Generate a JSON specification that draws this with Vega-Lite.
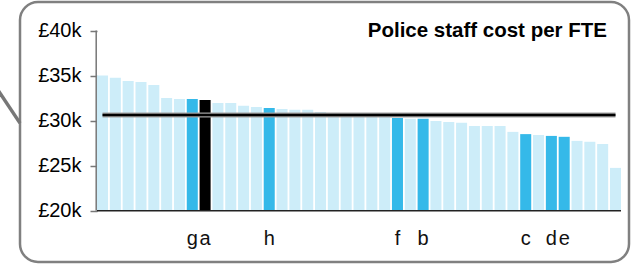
{
  "$schema": "https://vega.github.io/schema/vega-lite/v6.json",
  "width": 609,
  "height": 260,
  "autosize": {"type": "none"},
  "padding": {"left": 20, "top": 2, "right": 12, "bottom": 3},
  "background": "white",
  "config": {
    "view": {"stroke": "#808080", "strokeWidth": 2.5, "cornerRadius": 18},
    "font": "Liberation Sans"
  },
  "datasets": {
    "bars": [
      {"id": "01", "value": 35.0, "kind": "base", "label": ""},
      {"id": "02", "value": 34.75, "kind": "base", "label": ""},
      {"id": "03", "value": 34.4, "kind": "base", "label": ""},
      {"id": "04", "value": 34.3, "kind": "base", "label": ""},
      {"id": "05", "value": 33.95, "kind": "base", "label": ""},
      {"id": "06", "value": 32.5, "kind": "base", "label": ""},
      {"id": "07", "value": 32.4, "kind": "base", "label": ""},
      {"id": "08", "value": 32.4, "kind": "peer", "label": "g"},
      {"id": "09", "value": 32.3, "kind": "own", "label": "a"},
      {"id": "10", "value": 31.95, "kind": "base", "label": ""},
      {"id": "11", "value": 31.95, "kind": "base", "label": ""},
      {"id": "12", "value": 31.65, "kind": "base", "label": ""},
      {"id": "13", "value": 31.5, "kind": "base", "label": ""},
      {"id": "14", "value": 31.4, "kind": "peer", "label": "h"},
      {"id": "15", "value": 31.3, "kind": "base", "label": ""},
      {"id": "16", "value": 31.2, "kind": "base", "label": ""},
      {"id": "17", "value": 31.2, "kind": "base", "label": ""},
      {"id": "18", "value": 30.95, "kind": "base", "label": ""},
      {"id": "19", "value": 30.85, "kind": "base", "label": ""},
      {"id": "20", "value": 30.75, "kind": "base", "label": ""},
      {"id": "21", "value": 30.7, "kind": "base", "label": ""},
      {"id": "22", "value": 30.6, "kind": "base", "label": ""},
      {"id": "23", "value": 30.5, "kind": "base", "label": ""},
      {"id": "24", "value": 30.3, "kind": "peer", "label": "f"},
      {"id": "25", "value": 30.2, "kind": "base", "label": ""},
      {"id": "26", "value": 30.2, "kind": "peer", "label": "b"},
      {"id": "27", "value": 29.95, "kind": "base", "label": ""},
      {"id": "28", "value": 29.85, "kind": "base", "label": ""},
      {"id": "29", "value": 29.75, "kind": "base", "label": ""},
      {"id": "30", "value": 29.4, "kind": "base", "label": ""},
      {"id": "31", "value": 29.4, "kind": "base", "label": ""},
      {"id": "32", "value": 29.4, "kind": "base", "label": ""},
      {"id": "33", "value": 28.75, "kind": "base", "label": ""},
      {"id": "34", "value": 28.5, "kind": "peer", "label": "c"},
      {"id": "35", "value": 28.4, "kind": "base", "label": ""},
      {"id": "36", "value": 28.3, "kind": "peer", "label": "d"},
      {"id": "37", "value": 28.2, "kind": "peer", "label": "e"},
      {"id": "38", "value": 27.75, "kind": "base", "label": ""},
      {"id": "39", "value": 27.65, "kind": "base", "label": ""},
      {"id": "40", "value": 27.4, "kind": "base", "label": ""},
      {"id": "41", "value": 24.75, "kind": "base", "label": ""}
    ],
    "note": [{"text": "Police staff cost per FTE"}]
  },
  "layer": [
    {
      "layer": [
        {
          "data": {"name": "bars"},
          "mark": {"type": "bar"},
          "encoding": {
            "x": {"field": "id", "type": "ordinal", "axis": null,
                  "scale": {"range": [77, 601], "paddingInner": 0.14, "paddingOuter": 0}},
            "y": {"field": "value", "type": "quantitative",
                  "scale": {"domain": [14.3, 43.17], "nice": false, "zero": false},
                  "axis": {"values": [20, 25, 30, 35, 40], "offset": -77, "domain": false, "grid": false,
                           "ticks": true, "tickSize": 7, "tickColor": "#777777", "tickWidth": 1.5,
                           "labelFontSize": 20, "labelColor": "#000000", "labelPadding": 9,
                           "labelFont": "Liberation Sans",
                           "labelExpr": "'£' + datum.value + 'k'", "title": null}},
            "y2": {"datum": 20},
            "color": {"field": "kind", "type": "nominal", "legend": null,
                      "scale": {"domain": ["base", "peer", "own"], "range": ["#cdedf9", "#35b9e9", "#000000"]}}
          }
        },
        {
          "data": {"name": "bars"},
          "mark": {"type": "line", "color": "#a0a0a0", "strokeWidth": 5},
          "encoding": {
            "x": {"field": "id", "type": "ordinal", "axis": null},
            "y": {"datum": 30.63, "title": null}
          }
        },
        {
          "data": {"name": "bars"},
          "mark": {"type": "line", "color": "#000000", "strokeWidth": 2.6},
          "encoding": {
            "x": {"field": "id", "type": "ordinal", "axis": null},
            "y": {"datum": 30.63, "title": null}
          }
        },
        {
          "data": {"name": "note"},
          "mark": {"type": "rule", "color": "#777777", "strokeWidth": 1.5, "xOffset": -0.8},
          "encoding": {
            "x": {"datum": "01", "type": "ordinal", "bandPosition": 0, "axis": null},
            "y": {"datum": 20, "title": null},
            "y2": {"datum": 40}
          }
        },
        {
          "data": {"name": "note"},
          "mark": {"type": "rule", "color": "#222222", "strokeWidth": 1.5},
          "encoding": {
            "x": {"datum": "01", "type": "ordinal", "bandPosition": 0, "axis": null},
            "x2": {"datum": "41", "bandPosition": 1},
            "y": {"datum": 20, "title": null}
          }
        },
        {
          "data": {"name": "bars"},
          "mark": {"type": "text", "fontSize": 20, "color": "#111111", "baseline": "alphabetic", "align": "center"},
          "encoding": {
            "x": {"field": "id", "type": "ordinal", "axis": null},
            "y": {"datum": 16.2, "title": null},
            "text": {"field": "label"}
          }
        },
        {
          "data": {"name": "note"},
          "mark": {"type": "text", "fontSize": 20.5, "fontWeight": "bold", "color": "#000000",
                   "baseline": "alphabetic", "align": "right", "dx": -3},
          "encoding": {
            "x": {"datum": "41", "type": "ordinal", "bandPosition": 0, "axis": null},
            "y": {"datum": 39.28, "title": null},
            "text": {"field": "text"}
          }
        }
      ]
    },
    {
      "data": {"name": "note"},
      "mark": {"type": "rule", "color": "#777777", "strokeWidth": 3.5},
      "encoding": {
        "x": {"datum": -22, "type": "quantitative", "axis": null, "scale": {"domain": [0, 609], "nice": false, "zero": false}},
        "x2": {"datum": 0},
        "y": {"datum": 33.39, "title": null},
        "y2": {"datum": 29.72}
      }
    }
  ],
  "resolve": {"scale": {"x": "independent"}}
}
